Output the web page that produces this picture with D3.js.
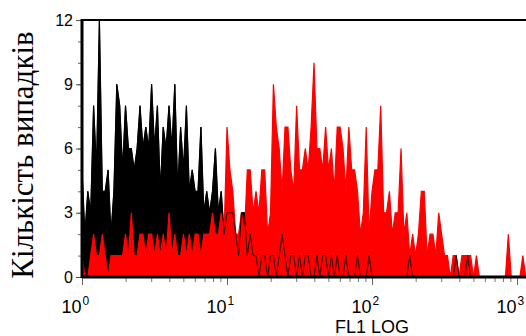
<!DOCTYPE html>
<html>
<head>
<meta charset="utf-8">
<script src="https://cdn.jsdelivr.net/npm/d3@7"></script>
<style>
  body { margin: 0; background: #fff; }
  svg { display: block; }
</style>
</head>
<body>
<div id="chart"></div>
<script>
// log channels: bin i sits at 10^(i * binStep)
var binStep = 0.02;

// black histogram (counts per channel)
var blackCounts = [
  5, 2, 4, 3, 8, 5, 12, 4, 4, 5,
  2, 4, 9, 8, 5, 8, 6, 6, 5, 6,
  8, 6, 7, 6, 9, 6, 8, 4, 7, 6,
  8, 6, 9, 4, 7, 5, 8, 4, 5, 4,
  4, 7, 3, 4, 3, 4, 6, 3, 4, 2,
  3, 3, 3, 2, 1, 3, 3, 1, 2, 1,
  1, 0, 1, 1, 0, 1, 1, 0, 1, 2,
  1, 0, 1, 1, 0, 1, 0, 1, 1, 0,
  0, 1, 0, 1, 1, 0, 1, 0, 1, 0,
  0, 1, 0, 0, 0, 1, 0, 0, 0, 1,
  0, 0, 0, 0, 0, 0, 0, 0, 0, 0,
  0, 0, 0, 1, 0, 0, 0, 0, 0, 0,
  0, 0, 0, 0, 0, 0, 0, 0, 0, 1,
  0, 0, 0, 1, 0, 0, 0, 0, 0, 0,
  0, 0, 0, 0, 0, 0, 0, 0, 0, 0,
  0, 0, 0, 0
];

// red histogram (counts per channel)
var redCounts = [
  1, 0, 0, 1, 2, 1, 1, 2, 1, 0,
  1, 1, 1, 1, 1, 2, 1, 3, 1, 1,
  2, 2, 1, 2, 2, 1, 2, 1, 2, 1,
  3, 1, 2, 1, 1, 2, 1, 2, 1, 2,
  2, 1, 2, 2, 2, 3, 2, 2, 3, 2,
  7, 5, 4, 2, 2, 3, 2, 5, 5, 3,
  4, 3, 5, 5, 2, 3, 9, 7, 6, 4,
  7, 7, 5, 4, 8, 5, 5, 6, 5, 7,
  10, 6, 6, 5, 7, 5, 6, 4, 7, 7,
  6, 4, 7, 5, 5, 4, 2, 3, 7, 2,
  4, 5, 5, 8, 3, 3, 4, 2, 3, 3,
  6, 2, 3, 1, 2, 1, 2, 4, 4, 1,
  2, 2, 1, 3, 2, 1, 1, 0, 1, 1,
  0, 1, 1, 1, 1, 0, 1, 0, 0, 0,
  0, 0, 0, 0, 0, 0, 0, 2, 0, 0,
  0, 0, 1, 0
];

var yMajor = [0, 3, 6, 9, 12];
var xDecades = [0, 1, 2, 3];
var yTitle = "Кількість випадків";
var xTitle = "FL1 LOG";

var W = 526, H = 336;
var plotL = 82, plotR = 526, plotT = 20, plotB = 277;

var svg = d3.select("#chart")
  .append("svg")
    .attr("width", W)
    .attr("height", H);

var x = d3.scaleLog()
    .domain([1, 1153])
    .range([plotL, plotR]);

var y = d3.scaleLinear()
    .domain([0, 12])
    .range([plotB, plotT]);

function toPoints(counts) {
  return counts.map(function(c, i) {
    return {ch: Math.pow(10, i * binStep), n: c};
  });
}

var area = d3.area()
    .x(function(d) { return x(d.ch); })
    .y0(y(0))
    .y1(function(d) { return y(d.n); });

var line = d3.line()
    .x(function(d) { return x(d.ch); })
    .y(function(d) { return y(d.n); });

var blackData = toPoints(blackCounts);
var redData = toPoints(redCounts);

svg.append("path")
    .datum(blackData)
    .attr("d", area)
    .attr("fill", "#000")
    .attr("stroke", "#000")
    .attr("stroke-width", 1.2);

svg.append("path")
    .datum(redData)
    .attr("d", area)
    .attr("fill", "#ff0000")
    .attr("stroke", "#ff0000")
    .attr("stroke-width", 1.2);

svg.append("path")
    .datum(blackData)
    .attr("d", line)
    .attr("fill", "none")
    .attr("stroke", "#000")
    .attr("stroke-width", 0.8);

// top frame line
svg.append("line")
    .attr("x1", plotL).attr("x2", plotR)
    .attr("y1", plotT).attr("y2", plotT)
    .attr("stroke", "#000")
    .attr("stroke-width", 2);

// y axis: minor ticks every unit, major every 3
svg.append("g")
    .attr("transform", "translate(" + plotL + ",0)")
    .call(d3.axisLeft(y).tickValues(d3.range(0, 13)).tickSize(4).tickFormat(""))
    .call(function(g) { g.select(".domain").remove(); })
    .selectAll("line").attr("stroke", "#666");

var yAx = svg.append("g")
    .attr("transform", "translate(" + plotL + ",0)")
    .call(d3.axisLeft(y).tickValues(yMajor).tickSize(6).tickPadding(3));
yAx.select(".domain").remove();
yAx.selectAll("line").attr("stroke", "#555");
yAx.selectAll("text")
    .style("font-family", "'Liberation Sans', Arial, sans-serif")
    .style("font-size", "16px")
    .attr("fill", "#000");

// x axis ticks
var minor = [];
xDecades.forEach(function(k) {
  for (var m = 2; m <= 9; m++) {
    var v = m * Math.pow(10, k);
    if (v <= 1153) minor.push(v);
  }
});
svg.append("g")
    .attr("transform", "translate(0," + plotB + ")")
    .call(d3.axisBottom(x).tickValues(minor).tickSize(5).tickFormat(""))
    .call(function(g) { g.select(".domain").remove(); })
    .selectAll("line").attr("stroke", "#777");

svg.append("g")
    .attr("transform", "translate(0," + plotB + ")")
    .call(d3.axisBottom(x).tickValues(xDecades.map(function(k) { return Math.pow(10, k); })).tickSize(8).tickFormat(""))
    .call(function(g) { g.select(".domain").remove(); })
    .selectAll("line").attr("stroke", "#666");

// axis lines
svg.append("line")
    .attr("x1", plotL).attr("x2", plotL)
    .attr("y1", plotT - 1).attr("y2", plotB + 1)
    .attr("stroke", "#000")
    .attr("stroke-width", 3);

svg.append("line")
    .attr("x1", plotL).attr("x2", plotR)
    .attr("y1", plotB).attr("y2", plotB)
    .attr("stroke", "#000")
    .attr("stroke-width", 3);

// x tick labels 10^k
var lab = svg.append("g")
    .style("font-family", "'Liberation Sans', Arial, sans-serif")
    .attr("fill", "#000");
xDecades.forEach(function(k) {
  var px = x(Math.pow(10, k));
  lab.append("text")
      .attr("x", px - 0.5)
      .attr("y", 313)
      .attr("text-anchor", "end")
      .style("font-size", "18px")
      .text("10");
  lab.append("text")
      .attr("x", px + 0.5)
      .attr("y", 305)
      .style("font-size", "12px")
      .text(k);
});

svg.append("text")
    .attr("x", x(100))
    .attr("y", 333)
    .attr("text-anchor", "middle")
    .style("font-family", "'Liberation Sans', Arial, sans-serif")
    .style("font-size", "18px")
    .text(xTitle);

svg.append("text")
    .attr("transform", "translate(33,155) rotate(-90)")
    .attr("text-anchor", "middle")
    .style("font-family", "'Liberation Serif', 'Times New Roman', serif")
    .style("font-size", "31px")
    .text(yTitle);
</script>
</body>
</html>
